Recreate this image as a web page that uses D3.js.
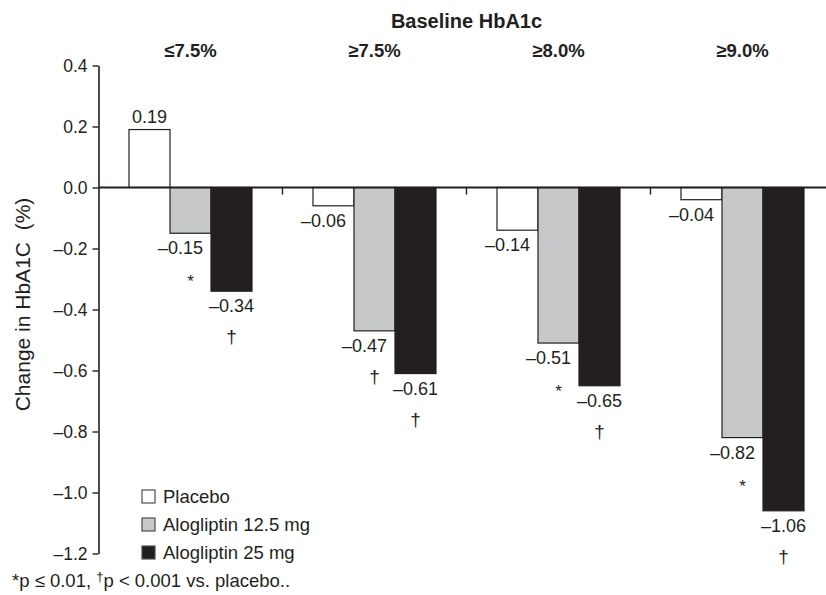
<!DOCTYPE html>
<html>
<head>
<meta charset="utf-8">
<script src="https://cdn.jsdelivr.net/npm/d3@7"></script>
<style>
  body { margin: 0; background: #fff; }
  text { font-family: "Liberation Sans", Arial, Helvetica, sans-serif; fill: #231f20; }
</style>
</head>
<body>
<div id="chart"></div>
<script>
const groups = ['≤7.5%', '≥7.5%', '≥8.0%', '≥9.0%'];
const seriesNames = ['Placebo', 'Alogliptin 12.5 mg', 'Alogliptin 25 mg'];
const placebo = [0.19, -0.06, -0.14, -0.04];
const alo125 = [-0.15, -0.47, -0.51, -0.82];
const alo25 = [-0.34, -0.61, -0.65, -1.06];
const sig125 = ['*', '†', '*', '*'];
const sig25 = ['†', '†', '†', '†'];
const yTicks = [0.4, 0.2, 0.0, -0.2, -0.4, -0.6, -0.8, -1.0, -1.2];

const colors = ['#ffffff', '#c7c8ca', '#231f20'];
const ink = '#231f20';
const W = 826, H = 595;

const seriesValues = [placebo, alo125, alo25];
const seriesSig = [null, sig125, sig25];

const svg = d3.select('#chart').append('svg')
  .attr('width', W).attr('height', H)
  .attr('viewBox', `0 0 ${W} ${H}`);

const x0 = d3.scaleBand().domain(groups).range([98.5, 834.5]).padding(0);
const x1 = d3.scaleBand().domain(seriesNames).range([30.5, x0.bandwidth() - 30.5]).padding(0);
const y = d3.scaleLinear().domain([-1.2, 0.4]).range([553.5, 65.5]);

const dash = (s) => s.replace('−', '–').replace('-', '–');
const fmt = (v) => dash(d3.format('.1f')(v));

// y axis
const yAxis = svg.append('g')
  .attr('transform', `translate(${x0.range()[0]},0)`)
  .call(d3.axisLeft(y).tickValues(yTicks).tickFormat(fmt).tickSize(6).tickPadding(5).tickSizeOuter(0));
yAxis.select('.domain').attr('stroke', ink).attr('stroke-width', 1.6);
yAxis.selectAll('.tick line').attr('stroke', ink).attr('stroke-width', 1.4);
yAxis.selectAll('.tick text')
  .style('font-family', '"Liberation Sans", Arial, sans-serif')
  .style('font-size', '17.5px').attr('fill', ink);

// bars
const rows = [];
groups.forEach((g, gi) => {
  seriesNames.forEach((s, si) => {
    rows.push({ g, s, si, value: seriesValues[si][gi], sig: seriesSig[si] ? seriesSig[si][gi] : null });
  });
});

const bx = (d) => x0(d.g) + x1(d.s);
const bw = x1.bandwidth();

svg.append('g').selectAll('rect').data(rows).join('rect')
  .attr('x', bx)
  .attr('y', (d) => Math.min(y(d.value), y(0)))
  .attr('width', bw)
  .attr('height', (d) => Math.abs(y(d.value) - y(0)))
  .attr('fill', (d) => colors[d.si])
  .attr('stroke', ink)
  .attr('stroke-width', 1.2);

// zero line with group separators
const zero = svg.append('g').attr('transform', `translate(0,${y(0)})`);
zero.append('line')
  .attr('x1', x0.range()[0]).attr('x2', W)
  .attr('stroke', ink).attr('stroke-width', 2);
zero.selectAll('.sep').data(groups.slice(1)).join('line')
  .attr('class', 'sep')
  .attr('x1', (g) => x0(g)).attr('x2', (g) => x0(g))
  .attr('y1', 0).attr('y2', 7)
  .attr('stroke', ink).attr('stroke-width', 1.4);

// value labels (placebo / 12.5 mg negatives sit left so they clear the next bar)
const labelX = (d) => (d.value < 0 && d.si < 2) ? bx(d) + bw - 8 : bx(d) + bw / 2;
const labelY = (d) => d.value >= 0 ? y(d.value) - 7 : y(d.value) + 21;

svg.append('g').selectAll('text').data(rows).join('text')
  .attr('x', labelX)
  .attr('y', labelY)
  .attr('text-anchor', (d) => (d.value < 0 && d.si < 2) ? 'end' : 'middle')
  .style('font-size', '18px')
  .text((d) => dash(d3.format('.2f')(d.value)));

// significance markers
svg.append('g').selectAll('text').data(rows.filter((d) => d.sig)).join('text')
  .attr('x', (d) => bx(d) + bw / 2)
  .attr('y', (d) => labelY(d) + (d.sig === '*' ? 33 : 31))
  .attr('text-anchor', 'middle')
  .style('font-size', (d) => d.sig === '*' ? '17px' : '19px')
  .text((d) => d.sig);

// group headers and title
svg.append('g').selectAll('text').data(groups).join('text')
  .attr('x', (g) => x0(g) + x0.bandwidth() / 2)
  .attr('y', 57)
  .attr('text-anchor', 'middle')
  .style('font-size', '18.5px')
  .style('font-weight', 'bold')
  .text((g) => g);

svg.append('text')
  .attr('x', d3.mean(x0.range()))
  .attr('y', 28)
  .attr('text-anchor', 'middle')
  .style('font-size', '20px')
  .style('font-weight', 'bold')
  .text('Baseline HbA1c');

// y axis title
svg.append('text')
  .attr('transform', `translate(30,${d3.mean(y.range()) - 5}) rotate(-90)`)
  .attr('text-anchor', 'middle')
  .style('font-size', '21px')
  .style('white-space', 'pre')
  .text('Change in HbA1C  (%)');

// legend
const legend = svg.append('g').attr('transform', 'translate(142,490)');
const li = legend.selectAll('g').data(seriesNames).join('g')
  .attr('transform', (d, i) => `translate(0,${i * 28})`);
li.append('rect')
  .attr('width', 13).attr('height', 13)
  .attr('fill', (d, i) => colors[i])
  .attr('stroke', '#4d4d4f').attr('stroke-width', 1.2);
li.append('text')
  .attr('x', 21).attr('y', 13)
  .style('font-size', '18.5px')
  .text((d) => d);

// footnote
const foot = svg.append('text')
  .attr('x', 12).attr('y', 587)
  .style('font-size', '18.5px');
foot.append('tspan').text('*p ≤ 0.01, ');
foot.append('tspan').attr('dy', -6).style('font-size', '13px').text('†');
foot.append('tspan').attr('dy', 6).text('p < 0.001 vs. placebo..');
</script>
</body>
</html>
